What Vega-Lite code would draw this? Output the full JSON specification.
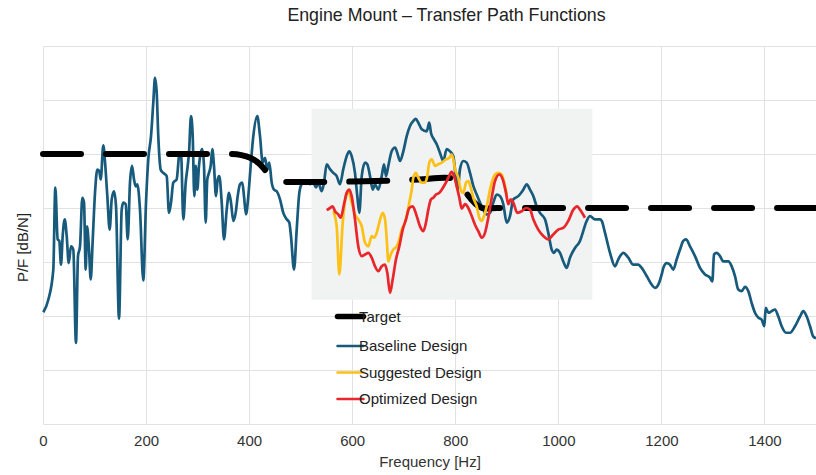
{
  "$schema": "https://vega.github.io/schema/vega-lite/v6.json",
  "autosize": {"type": "none"},
  "padding": {"left": 43, "top": 46, "right": 0, "bottom": 51},
  "width": 773,
  "height": 378,
  "background": "white",
  "title": {"text": "Engine Mount – Transfer Path Functions", "fontSize": 17.8, "font": "Liberation Sans", "fontWeight": "normal", "color": "#222", "offset": 21, "dx": 17},
  "config": {
    "view": {"stroke": null},
    "axis": {"gridColor": "#e2e2e2", "gridWidth": 1}
  },
  "datasets": {
    "box": [{"x1": 521, "x2": 1066, "y1": 23, "y2": 58.4}],
    "baseline": [
      {"f":0.6,"v":20.7},{"f":10.3,"v":23.0},{"f":20.0,"v":28.6},{"f":23.9,"v":43.8},{"f":28.5,"v":34.2},{"f":31.6,"v":33.9},{"f":34.9,"v":29.5},{"f":38.2,"v":34.8},{"f":42.1,"v":37.9},{"f":46.0,"v":34.8},{"f":49.9,"v":29.8},{"f":54.3,"v":32.9},{"f":58.8,"v":32.3},{"f":64.0,"v":15.0},{"f":67.9,"v":31.1},{"f":71.8,"v":32.9},{"f":76.3,"v":41.9},{"f":79.6,"v":41.0},{"f":82.9,"v":28.6},{"f":85.4,"v":36.6},{"f":89.3,"v":32.3},{"f":92.6,"v":26.8},{"f":96.4,"v":33.9},{"f":100.9,"v":42.8},{"f":105.4,"v":47.1},{"f":109.2,"v":46.8},{"f":112.0,"v":45.3},{"f":117.0,"v":51.6},{"f":120.9,"v":47.8},{"f":124.8,"v":42.2},{"f":129.4,"v":36.0},{"f":133.3,"v":41.6},{"f":137.8,"v":43.1},{"f":141.7,"v":40.3},{"f":147.5,"v":19.5},{"f":152.7,"v":39.7},{"f":155.8,"v":41.0},{"f":160.5,"v":40.7},{"f":164.4,"v":34.2},{"f":168.8,"v":44.7},{"f":172.7,"v":47.8},{"f":176.6,"v":45.3},{"f":179.9,"v":44.0},{"f":183.0,"v":44.4},{"f":188.2,"v":39.7},{"f":194.6,"v":26.6},{"f":199.9,"v":41.0},{"f":204.3,"v":49.0},{"f":209.6,"v":53.3},{"f":214.0,"v":59.5},{"f":217.3,"v":64.1},{"f":220.6,"v":61.4},{"f":223.7,"v":53.3},{"f":228.4,"v":47.1},{"f":233.4,"v":46.5},{"f":240.0,"v":45.9},{"f":244.5,"v":39.1},{"f":248.4,"v":41.0},{"f":252.8,"v":44.7},{"f":259.4,"v":45.3},{"f":264.5,"v":49.9},{"f":267.8,"v":50.2},{"f":272.3,"v":37.9},{"f":276.9,"v":44.7},{"f":280.8,"v":47.8},{"f":283.3,"v":50.2},{"f":287.2,"v":57.0},{"f":290.5,"v":53.3},{"f":293.6,"v":42.2},{"f":296.3,"v":47.8},{"f":299.4,"v":43.4},{"f":302.7,"v":47.8},{"f":306.0,"v":50.2},{"f":309.1,"v":50.9},{"f":312.4,"v":47.8},{"f":315.7,"v":37.3},{"f":318.8,"v":45.3},{"f":322.1,"v":46.5},{"f":325.4,"v":47.8},{"f":328.5,"v":50.9},{"f":331.8,"v":47.8},{"f":335.7,"v":42.2},{"f":339.0,"v":45.3},{"f":342.1,"v":45.9},{"f":346.8,"v":41.0},{"f":351.2,"v":34.2},{"f":356.5,"v":39.7},{"f":360.9,"v":42.8},{"f":364.8,"v":41.0},{"f":369.3,"v":37.6},{"f":373.9,"v":39.1},{"f":377.8,"v":42.2},{"f":382.3,"v":44.4},{"f":386.7,"v":44.7},{"f":390.0,"v":42.2},{"f":393.9,"v":38.8},{"f":398.4,"v":42.2},{"f":403.0,"v":47.8},{"f":408.1,"v":53.3},{"f":415.8,"v":57.0},{"f":421.1,"v":53.3},{"f":426.3,"v":48.4},{"f":430.8,"v":49.3},{"f":435.3,"v":47.1},{"f":439.1,"v":48.4},{"f":443.8,"v":44.7},{"f":448.3,"v":43.4},{"f":453.5,"v":43.1},{"f":459.9,"v":41.6},{"f":466.3,"v":39.1},{"f":472.9,"v":37.9},{"f":477.9,"v":37.3},{"f":481.2,"v":34.8},{"f":487.1,"v":28.6},{"f":492.3,"v":36.0},{"f":497.4,"v":42.8},{"f":502.0,"v":44.4},{"f":508.4,"v":44.7},{"f":514.8,"v":45.0},{"f":518.1,"v":44.4},{"f":524.5,"v":44.7},{"f":529.8,"v":43.8},{"f":534.2,"v":44.7},{"f":540.8,"v":43.1},{"f":545.3,"v":44.7},{"f":550.5,"v":48.1},{"f":556.9,"v":47.2},{"f":563.3,"v":46.5},{"f":569.9,"v":45.9},{"f":576.3,"v":44.4},{"f":582.7,"v":47.2},{"f":589.3,"v":49.6},{"f":594.4,"v":50.5},{"f":599.0,"v":49.6},{"f":605.4,"v":46.5},{"f":609.9,"v":42.2},{"f":613.8,"v":39.1},{"f":618.5,"v":45.9},{"f":624.9,"v":48.4},{"f":629.3,"v":48.1},{"f":634.6,"v":45.9},{"f":639.8,"v":43.4},{"f":644.3,"v":44.4},{"f":650.7,"v":43.4},{"f":657.3,"v":45.9},{"f":661.7,"v":48.1},{"f":665.6,"v":45.9},{"f":670.1,"v":47.8},{"f":676.6,"v":50.5},{"f":683.1,"v":51.2},{"f":687.5,"v":50.2},{"f":692.8,"v":48.7},{"f":699.2,"v":50.5},{"f":705.8,"v":53.3},{"f":712.2,"v":55.2},{"f":718.6,"v":56.1},{"f":723.2,"v":56.5},{"f":728.3,"v":55.8},{"f":734.9,"v":54.6},{"f":744.6,"v":54.2},{"f":749.6,"v":55.8},{"f":752.9,"v":53.9},{"f":758.7,"v":52.7},{"f":764.0,"v":51.8},{"f":770.4,"v":50.2},{"f":776.8,"v":48.7},{"f":783.4,"v":50.9},{"f":789.8,"v":50.5},{"f":796.2,"v":49.6},{"f":800.8,"v":45.9},{"f":804.7,"v":43.4},{"f":809.2,"v":47.2},{"f":815.6,"v":48.7},{"f":822.2,"v":48.4},{"f":828.6,"v":46.5},{"f":835.0,"v":44.1},{"f":841.6,"v":42.5},{"f":848.0,"v":41.0},{"f":854.4,"v":39.7},{"f":861.0,"v":38.8},{"f":867.4,"v":39.1},{"f":873.8,"v":41.0},{"f":880.4,"v":42.5},{"f":886.8,"v":42.2},{"f":893.2,"v":40.7},{"f":899.8,"v":37.3},{"f":906.2,"v":38.5},{"f":912.6,"v":41.6},{"f":922.3,"v":42.2},{"f":932.0,"v":43.4},{"f":938.6,"v":44.4},{"f":945.0,"v":43.4},{"f":951.4,"v":42.2},{"f":958.0,"v":40.3},{"f":964.4,"v":39.1},{"f":974.1,"v":37.9},{"f":980.5,"v":35.4},{"f":987.1,"v":32.3},{"f":991.6,"v":31.7},{"f":996.8,"v":32.3},{"f":1003.2,"v":31.7},{"f":1009.6,"v":30.1},{"f":1016.2,"v":28.9},{"f":1022.6,"v":30.8},{"f":1032.3,"v":32.6},{"f":1042.0,"v":33.9},{"f":1047.3,"v":35.4},{"f":1053.7,"v":37.3},{"f":1061.4,"v":38.5},{"f":1071.1,"v":37.9},{"f":1080.8,"v":37.9},{"f":1084.2,"v":37.6},{"f":1090.6,"v":35.4},{"f":1100.3,"v":31.7},{"f":1110.0,"v":29.2},{"f":1116.4,"v":30.5},{"f":1126.1,"v":31.7},{"f":1135.8,"v":30.8},{"f":1145.5,"v":29.5},{"f":1155.2,"v":29.5},{"f":1161.8,"v":28.9},{"f":1171.5,"v":27.4},{"f":1181.2,"v":25.8},{"f":1187.6,"v":25.2},{"f":1194.0,"v":25.8},{"f":1200.6,"v":27.7},{"f":1203.7,"v":28.9},{"f":1210.3,"v":29.8},{"f":1216.7,"v":29.5},{"f":1223.1,"v":28.6},{"f":1229.7,"v":30.5},{"f":1236.1,"v":32.3},{"f":1242.5,"v":33.9},{"f":1247.8,"v":34.2},{"f":1255.5,"v":32.9},{"f":1265.2,"v":31.1},{"f":1274.9,"v":28.9},{"f":1284.6,"v":27.7},{"f":1294.3,"v":27.1},{"f":1298.8,"v":26.4},{"f":1302.1,"v":31.4},{"f":1307.3,"v":31.7},{"f":1313.7,"v":31.1},{"f":1320.1,"v":30.1},{"f":1329.8,"v":30.1},{"f":1336.4,"v":29.2},{"f":1342.8,"v":27.4},{"f":1349.2,"v":24.9},{"f":1355.8,"v":24.6},{"f":1362.2,"v":25.4},{"f":1368.7,"v":24.6},{"f":1375.2,"v":22.4},{"f":1381.6,"v":20.6},{"f":1388.1,"v":19.7},{"f":1394.6,"v":19.3},{"f":1399.7,"v":18.1},{"f":1402.4,"v":21.5},{"f":1407.5,"v":20.6},{"f":1414.1,"v":20.9},{"f":1420.5,"v":21.2},{"f":1426.9,"v":19.9},{"f":1433.4,"v":18.1},{"f":1441.8,"v":16.9},{"f":1449.6,"v":16.9},{"f":1459.3,"v":18.1},{"f":1469.0,"v":19.9},{"f":1475.4,"v":20.9},{"f":1482.0,"v":19.9},{"f":1488.4,"v":18.1},{"f":1494.8,"v":16.2},{"f":1500,"v":15.9}
    ],
    "target": [
      {"f":0,"v":50},{"f":365,"v":50},{"f":385,"v":49.8},{"f":402,"v":49.3},{"f":421,"v":48.1},{"f":435,"v":46.6},{"f":450,"v":45.5},{"f":466,"v":44.9},{"f":480,"v":44.8},{"f":600,"v":44.9},{"f":680,"v":45.1},{"f":730,"v":45.3},{"f":780,"v":45.6},{"f":796,"v":45.5},{"f":810,"v":44.0},{"f":820,"v":42.9},{"f":832,"v":41.5},{"f":844,"v":40.4},{"f":858,"v":39.9},{"f":881,"v":40},{"f":1500,"v":40}
    ],
    "suggested": [
      {"f":563.3,"v":39.4},{"f":569.9,"v":36.6},{"f":575.0,"v":27.7},{"f":581.6,"v":37.3},{"f":588.0,"v":42.2},{"f":592.4,"v":43.1},{"f":599.0,"v":41.0},{"f":605.4,"v":38.8},{"f":611.8,"v":37.9},{"f":618.5,"v":36.6},{"f":624.9,"v":33.6},{"f":631.3,"v":32.9},{"f":637.8,"v":34.8},{"f":642.3,"v":34.5},{"f":647.5,"v":35.4},{"f":652.6,"v":37.3},{"f":659.2,"v":39.1},{"f":663.7,"v":37.9},{"f":667.0,"v":34.2},{"f":670.1,"v":30.1},{"f":674.8,"v":31.4},{"f":679.8,"v":32.3},{"f":686.4,"v":32.9},{"f":691.4,"v":34.2},{"f":696.1,"v":36.0},{"f":702.5,"v":37.3},{"f":706.9,"v":39.1},{"f":710.8,"v":41.0},{"f":715.5,"v":43.4},{"f":718.6,"v":45.6},{"f":723.8,"v":46.5},{"f":728.3,"v":45.6},{"f":734.9,"v":44.7},{"f":741.3,"v":44.7},{"f":745.7,"v":45.9},{"f":749.6,"v":48.4},{"f":754.3,"v":49.0},{"f":760.7,"v":47.8},{"f":767.1,"v":48.1},{"f":773.7,"v":48.4},{"f":782.0,"v":49.0},{"f":788.4,"v":49.3},{"f":793.1,"v":49.9},{"f":796.2,"v":49.0},{"f":799.5,"v":47.2},{"f":805.9,"v":45.6},{"f":810.6,"v":43.4},{"f":815.6,"v":42.8},{"f":820.9,"v":44.7},{"f":825.3,"v":45.0},{"f":830.0,"v":43.8},{"f":835.0,"v":41.9},{"f":841.6,"v":40.3},{"f":846.6,"v":38.2},{"f":851.3,"v":37.6},{"f":855.8,"v":38.5},{"f":861.0,"v":40.3},{"f":867.4,"v":43.4},{"f":872.7,"v":45.3},{"f":877.1,"v":46.2},{"f":883.5,"v":46.5},{"f":890.1,"v":46.2},{"f":896.5,"v":44.1},{"f":899.8,"v":42.5}
    ],
    "optimized": [
      {"f":550.5,"v":39.6},{"f":556.9,"v":40.0},{"f":562.2,"v":40.3},{"f":566.6,"v":39.4},{"f":573.0,"v":38.8},{"f":577.7,"v":38.2},{"f":584.1,"v":40.7},{"f":589.3,"v":42.8},{"f":594.4,"v":43.4},{"f":599.0,"v":42.2},{"f":605.4,"v":37.9},{"f":611.8,"v":32.9},{"f":618.5,"v":31.1},{"f":624.9,"v":31.4},{"f":631.3,"v":31.7},{"f":637.8,"v":30.8},{"f":644.3,"v":29.2},{"f":650.7,"v":28.3},{"f":657.3,"v":29.2},{"f":663.7,"v":29.5},{"f":668.1,"v":28.0},{"f":673.4,"v":24.3},{"f":678.6,"v":26.8},{"f":685.0,"v":30.5},{"f":691.4,"v":32.9},{"f":698.0,"v":36.0},{"f":704.4,"v":37.9},{"f":710.8,"v":40.0},{"f":717.4,"v":40.3},{"f":725.2,"v":38.5},{"f":731.6,"v":36.6},{"f":738.0,"v":35.7},{"f":743.2,"v":37.3},{"f":747.7,"v":39.7},{"f":752.9,"v":41.6},{"f":757.4,"v":41.9},{"f":762.6,"v":42.5},{"f":769.0,"v":42.8},{"f":773.7,"v":43.4},{"f":780.1,"v":44.4},{"f":786.5,"v":45.6},{"f":793.1,"v":46.7},{"f":797.6,"v":45.9},{"f":802.8,"v":44.0},{"f":807.9,"v":41.9},{"f":812.5,"v":39.9},{"f":818.9,"v":40.7},{"f":825.3,"v":40.0},{"f":831.9,"v":38.5},{"f":838.3,"v":36.9},{"f":844.7,"v":35.7},{"f":851.3,"v":34.5},{"f":857.7,"v":35.4},{"f":864.1,"v":38.2},{"f":870.7,"v":41.9},{"f":877.1,"v":45.0},{"f":885.5,"v":46.2},{"f":892.1,"v":45.3},{"f":898.5,"v":42.8},{"f":902.9,"v":40.7},{"f":907.6,"v":41.6},{"f":912.6,"v":41.0},{"f":920.4,"v":39.1},{"f":928.9,"v":39.4},{"f":937.3,"v":40.0},{"f":945.0,"v":39.7},{"f":951.4,"v":37.9},{"f":961.1,"v":36.0},{"f":970.8,"v":34.8},{"f":980.5,"v":34.2},{"f":990.2,"v":35.1},{"f":999.9,"v":36.0},{"f":1009.6,"v":36.3},{"f":1019.3,"v":37.6},{"f":1029.1,"v":39.7},{"f":1036.8,"v":40.3},{"f":1042.0,"v":39.7},{"f":1051.7,"v":38.2}
    ]
  },
  "layer": [
    {
      "data": {"name": "box"},
      "mark": {"type": "rect", "color": "#f1f3f2"},
      "encoding": {
        "x": {"field": "x1", "type": "quantitative", "scale": {"domain": [0, 1500], "nice": false, "zero": false},
          "axis": {"values": [0, 200, 400, 600, 800, 1000, 1200, 1400], "format": "d", "grid": true, "domain": false, "ticks": false, "labelFlush": false, "labelPadding": 9, "labelFontSize": 15, "labelFont": "Liberation Sans", "labelColor": "#333", "title": "Frequency [Hz]", "titleFontSize": 15, "titleFont": "Liberation Sans", "titleFontWeight": "normal", "titleColor": "#333", "titlePadding": 6}},
        "x2": {"field": "x2"},
        "y": {"field": "y1", "type": "quantitative", "scale": {"domain": [0, 70], "nice": false, "zero": false},
          "axis": {"values": [0, 10, 20, 30, 40, 50, 60, 70], "grid": true, "domain": false, "ticks": false, "labels": false, "title": "P/F [dB/N]", "titleFontSize": 15, "titleFont": "Liberation Sans", "titleFontWeight": "normal", "titleColor": "#222", "titleX": -21, "titleY": 201, "titleBaseline": "middle"}},
        "y2": {"field": "y2"}
      }
    },
    {
      "data": {"name": "baseline"},
      "mark": {"type": "line", "strokeWidth": 2.7, "interpolate": "monotone"},
      "encoding": {
        "x": {"field": "f", "type": "quantitative"},
        "y": {"field": "v", "type": "quantitative"},
        "color": {"datum": "Baseline Design", "type": "nominal"}
      }
    },
    {
      "data": {"name": "target"},
      "mark": {"type": "line", "strokeWidth": 6, "interpolate": "monotone", "strokeDash": [38, 25], "strokeCap": "round"},
      "encoding": {
        "x": {"field": "f", "type": "quantitative"},
        "y": {"field": "v", "type": "quantitative"},
        "color": {"datum": "Target", "type": "nominal"}
      }
    },
    {
      "data": {"name": "suggested"},
      "mark": {"type": "line", "strokeWidth": 2.7, "interpolate": "monotone"},
      "encoding": {
        "x": {"field": "f", "type": "quantitative"},
        "y": {"field": "v", "type": "quantitative"},
        "color": {"datum": "Suggested Design", "type": "nominal"}
      }
    },
    {
      "data": {"name": "optimized"},
      "mark": {"type": "line", "strokeWidth": 2.7, "interpolate": "monotone"},
      "encoding": {
        "x": {"field": "f", "type": "quantitative"},
        "y": {"field": "v", "type": "quantitative"},
        "color": {
          "datum": "Optimized Design", "type": "nominal",
          "scale": {"domain": ["Target", "Baseline Design", "Suggested Design", "Optimized Design"], "range": ["#000000", "#175a7c", "#fcc016", "#e8262b"]},
          "legend": {
            "title": null, "orient": "none", "legendX": 300, "legendY": 263, "padding": 0,
            "symbolType": "stroke", "symbolSize": 676, "symbolStrokeWidth": 2.5, "labelOffset": 1, "rowPadding": 10.5,
            "labelFontSize": 15, "labelFont": "Liberation Sans", "labelColor": "#222",
            "encode": {"symbols": {"update": {"strokeWidth": {"signal": "datum.value === 'Target' ? 5.5 : 2.5"}, "strokeCap": {"value": "round"}}}}
          }
        }
      }
    }
  ]
}
